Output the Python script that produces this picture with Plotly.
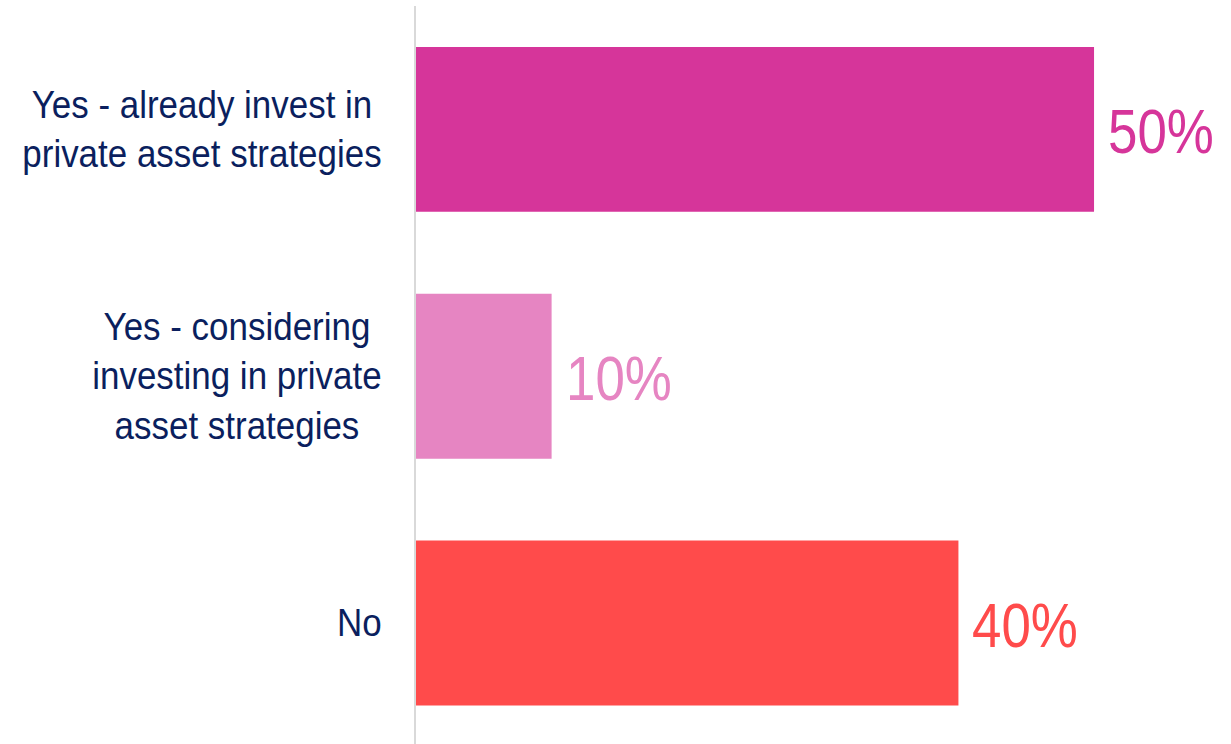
import plotly.graph_objects as go

categories = [
    "Yes - already invest in<br>private asset strategies",
    "Yes - considering<br>investing in private<br>asset strategies",
    "No",
]
values = [50, 10, 40]
value_labels = ["50%", "10%", "40%"]
colors = ["#D6359A", "#E685C2", "#FF4B4B"]

NAVY = "#0B1F5E"
FONT = "Liberation Sans, Arial, sans-serif"

positions = list(range(len(categories)))

fig = go.Figure(
    go.Bar(
        x=values,
        y=positions,
        orientation="h",
        marker=dict(color=colors, line=dict(width=0)),
        width=0.668,
        hoverinfo="skip",
    )
)

# value labels just past the end of each bar, coloured like the bar
for pos, val, lab, col in zip(positions, values, value_labels, colors):
    fig.add_annotation(
        x=val, y=pos, xref="x", yref="y",
        text=lab, showarrow=False,
        xanchor="left", yanchor="middle", xshift=12, yshift=-2,
        font=dict(family=FONT, size=63, color=col),
    )

# category labels, centred line by line and right-aligned to the axis
for pos, cat in zip(positions, categories):
    fig.add_annotation(
        x=0, y=pos, xref="paper", yref="y",
        text=cat, showarrow=False,
        xanchor="right", yanchor="middle", xshift=-32,
        align="center",
        font=dict(family=FONT, size=38, color=NAVY),
    )

fig.update_layout(
    width=1231, height=744,
    margin=dict(l=416, r=0, t=6, b=0),
    paper_bgcolor="white", plot_bgcolor="white",
    showlegend=False,
    bargap=0.33,
    xaxis=dict(range=[0, 60.1], visible=False, fixedrange=True),
    yaxis=dict(
        range=[2.49, -0.5],
        showticklabels=False,
        showgrid=False, zeroline=False,
        showline=True, linecolor="#D9D9D9", linewidth=2,
        ticks="", fixedrange=True,
    ),
)

# narrow the label type horizontally (condensed face look):
# value labels keep their left edge, category labels keep their right edge
condense_js = """
var gd = document.getElementById('{plot_id}');
gd.querySelectorAll('g.annotation').forEach(function (g) {
  var i = +g.getAttribute('data-index');
  var t = g.querySelector('text.annotation-text');
  if (!t || t.getAttribute('data-condensed')) return;
  var bb = t.getBBox();
  var sx = i < 3 ? 0.84 : 0.92;
  var x0 = i < 3 ? bb.x : bb.x + bb.width;
  var prev = t.getAttribute('transform') || '';
  t.setAttribute('transform', prev + ' translate(' + x0 + ',0) scale(' + sx + ',1) translate(' + (-x0) + ',0)');
  t.setAttribute('data-condensed', '1');
});
"""

fig.write_html("out.html", post_script=condense_js)
